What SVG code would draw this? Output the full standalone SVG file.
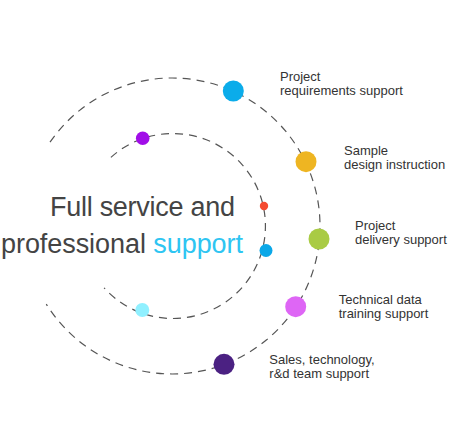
<svg xmlns="http://www.w3.org/2000/svg" width="455" height="447" viewBox="0 0 455 447">
<style>
.arc{fill:none;stroke:#555;stroke-width:1.2;stroke-dasharray:8 6}
.lbl{font-family:"Liberation Sans",Arial,sans-serif;font-size:13px;fill:#333}
.title{font-family:"Liberation Sans",Arial,sans-serif;font-size:27px;fill:#444}
</style>
<rect width="455" height="447" fill="#fff"/>
<g id="connectors">
<path class="arc" d="M50,142.2 A148,148 0 1 1 46.3,304.1"/>
<path class="arc" d="M110.9,157.4 A92.5,92.5 0 1 1 104.1,287.8"/>
</g>
<g id="title">
<text class="title" x="235" y="216" text-anchor="end" textLength="185">Full service and</text>
<text class="title" x="1" y="253" textLength="242">professional <tspan fill="#2EC5F2">support</tspan></text>
</g>
<g id="inner-dots">
<circle cx="142.7" cy="138.3" r="6.8" fill="#A10EE8"/>
<circle cx="264" cy="206" r="4.2" fill="#F44A30"/>
<circle cx="266" cy="250.5" r="6.5" fill="#0BA8E8"/>
<circle cx="142.3" cy="310" r="7" fill="#90F0FF"/>
</g>
<g id="node-requirements">
<circle cx="233.3" cy="91" r="10.5" fill="#0BACEA"/>
<text class="lbl" x="280" y="80.5">Project</text>
<text class="lbl" x="280" y="95">requirements support</text>
</g>
<g id="node-sample">
<circle cx="306" cy="161.7" r="10.5" fill="#EEB522"/>
<text class="lbl" x="344" y="155">Sample</text>
<text class="lbl" x="344" y="169">design instruction</text>
</g>
<g id="node-delivery">
<circle cx="319" cy="239" r="10.5" fill="#A9CB44"/>
<text class="lbl" x="355" y="230">Project</text>
<text class="lbl" x="355" y="244">delivery support</text>
</g>
<g id="node-technical">
<circle cx="295.7" cy="306.7" r="10.5" fill="#DE66F5"/>
<text class="lbl" x="338.7" y="304">Technical data</text>
<text class="lbl" x="338.7" y="318">training support</text>
</g>
<g id="node-sales">
<circle cx="224" cy="364.3" r="10.5" fill="#4B2182"/>
<text class="lbl" x="269.3" y="364">Sales, technology,</text>
<text class="lbl" x="269.3" y="378">r&amp;d team support</text>
</g>
</svg>
